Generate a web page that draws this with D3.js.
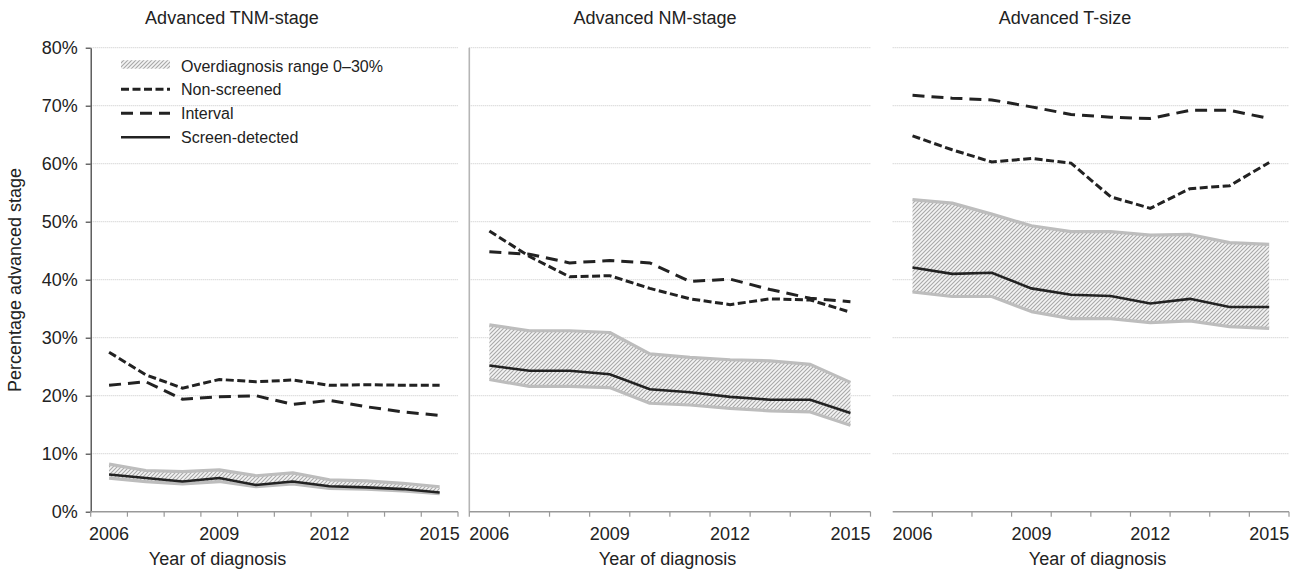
<!DOCTYPE html>
<html>
<head>
<meta charset="utf-8">
<script src="https://cdn.jsdelivr.net/npm/d3@7"></script>
<style>
  html, body { margin: 0; padding: 0; background: #fff; }
  svg { display: block; font-family: "Liberation Sans", Arial, Helvetica, sans-serif; }
</style>
</head>
<body>
<svg id="chart" width="1296" height="573"></svg>
<script>
// ---------------- DATA ----------------
const years = [2006, 2007, 2008, 2009, 2010, 2011, 2012, 2013, 2014, 2015];
const xTickLabels = [2006, 2009, 2012, 2015];
const yTicks = [0, 10, 20, 30, 40, 50, 60, 70, 80];
const panelTitles = ["Advanced TNM-stage", "Advanced NM-stage", "Advanced T-size"];
const xAxisTitle = "Year of diagnosis";
const yAxisTitle = "Percentage advanced stage";
const legendLabels = ["Overdiagnosis range 0\u201330%", "Non-screened", "Interval", "Screen-detected"];

// Panel 1: Advanced TNM-stage (%)
const tnmNonScreened = [27.5, 23.6, 21.3, 22.8, 22.4, 22.7, 21.8, 21.9, 21.8, 21.8];
const tnmInterval    = [21.8, 22.4, 19.4, 19.8, 20.0, 18.5, 19.2, 18.1, 17.2, 16.6];
const tnmScreen      = [6.4, 5.8, 5.2, 5.8, 4.6, 5.2, 4.4, 4.2, 3.9, 3.3];
const tnmBandHigh    = [8.2, 7.1, 6.9, 7.2, 6.2, 6.7, 5.5, 5.3, 4.9, 4.3];
const tnmBandLow     = [5.8, 5.2, 4.8, 5.2, 4.3, 4.8, 4.0, 3.9, 3.6, 3.1];

// Panel 2: Advanced NM-stage (%)
const nmNonScreened = [48.4, 44.0, 40.5, 40.7, 38.5, 36.7, 35.7, 36.7, 36.5, 34.4];
const nmInterval    = [44.8, 44.4, 42.9, 43.3, 42.9, 39.7, 40.1, 38.3, 36.8, 36.2];
const nmScreen      = [25.2, 24.3, 24.3, 23.7, 21.1, 20.6, 19.8, 19.3, 19.3, 17.0];
const nmBandHigh    = [32.2, 31.2, 31.2, 30.9, 27.2, 26.6, 26.2, 26.0, 25.4, 22.3];
const nmBandLow     = [22.8, 21.6, 21.6, 21.4, 18.7, 18.4, 17.8, 17.4, 17.2, 14.9];

// Panel 3: Advanced T-size (%)
const tNonScreened = [64.8, 62.4, 60.3, 60.9, 60.1, 54.3, 52.3, 55.7, 56.2, 60.2];
const tInterval    = [71.8, 71.3, 71.0, 69.8, 68.5, 68.0, 67.8, 69.2, 69.2, 67.8];
const tScreen      = [42.1, 41.0, 41.2, 38.5, 37.4, 37.2, 35.9, 36.7, 35.3, 35.3];
const tBandHigh    = [53.8, 53.2, 51.3, 49.3, 48.3, 48.3, 47.7, 47.8, 46.4, 46.1];
const tBandLow     = [37.9, 37.1, 37.1, 34.5, 33.3, 33.3, 32.6, 32.9, 31.9, 31.6];

// ---------------- LAYOUT ----------------
const svg = d3.select("#chart");
const yTop = 47.7, yBottom = 511.7;
const panels = [
  { x0: 90.7,  x1: 458,   titleX: 232,  xTitleX: 217.5, leftLine: "axis",
    ns: tnmNonScreened, iv: tnmInterval, sd: tnmScreen, hi: tnmBandHigh, lo: tnmBandLow, firstTick: true },
  { x0: 469.3, x1: 870.5, titleX: 655,  xTitleX: 667.5, leftLine: "grey",
    ns: nmNonScreened, iv: nmInterval, sd: nmScreen, hi: nmBandHigh, lo: nmBandLow, firstTick: true },
  { x0: 892.7, x1: 1289,  titleX: 1065, xTitleX: 1097.5, leftLine: "none",
    ns: tNonScreened, iv: tInterval, sd: tScreen, hi: tBandHigh, lo: tBandLow, firstTick: false }
];

const y = d3.scaleLinear().domain([0, 80]).range([yBottom, yTop]);

// hatch pattern
const defs = svg.append("defs");
const pat = defs.append("pattern")
  .attr("id", "hatch").attr("patternUnits", "userSpaceOnUse")
  .attr("width", 4).attr("height", 4);
pat.append("rect").attr("width", 4).attr("height", 4).attr("fill", "#f4f4f4");
pat.append("path").attr("d", "M-1,1 l2,-2 M0,4 l4,-4 M3,5 l2,-2")
  .attr("stroke", "#a8a8a8").attr("stroke-width", 1.1);

const lineColor = "#222";
const dashNS = "8,3.5";
const dashIV = "12,7";

panels.forEach((p, pi) => {
  const x = d3.scaleBand().domain(years).range([p.x0, p.x1]).paddingInner(0).paddingOuter(0);
  const cx = d => x(d) + x.bandwidth() / 2;
  const g = svg.append("g");

  // gridlines (dotted)
  g.append("g").selectAll("line").data(yTicks.filter(t => t > 0)).join("line")
    .attr("x1", p.x0).attr("x2", p.x1)
    .attr("y1", d => y(d)).attr("y2", d => y(d))
    .attr("stroke", "#c8c8c8").attr("stroke-width", 1).attr("stroke-dasharray", "1,1");

  // left vertical line
  if (p.leftLine === "axis") {
    const ya = d3.axisLeft(y).tickValues(yTicks).tickFormat(d => d + "%")
      .tickSize(5).tickSizeOuter(0).tickPadding(8);
    const ag = g.append("g").attr("transform", `translate(${p.x0},0)`).call(ya);
    ag.select(".domain").attr("stroke", "#444").attr("stroke-width", 1.3);
    ag.selectAll(".tick line").attr("stroke", "#444").attr("stroke-width", 1.2);
    ag.selectAll(".tick text").attr("font-size", 18).attr("fill", "#222")
      .attr("font-family", "Liberation Sans, Arial, sans-serif");
  } else if (p.leftLine === "grey") {
    g.append("line").attr("x1", p.x0).attr("x2", p.x0).attr("y1", yTop).attr("y2", yBottom)
      .attr("stroke", "#b5b5b5").attr("stroke-width", 1.6);
  }

  // x axis line & ticks at category boundaries
  g.append("line").attr("x1", p.x0).attr("x2", p.x1).attr("y1", yBottom).attr("y2", yBottom)
    .attr("stroke", "#999").attr("stroke-width", 1.4);
  const bounds = years.map(d => x(d)).concat([p.x1]).filter((b, i) => p.firstTick || i > 0);
  g.append("g").selectAll("line").data(bounds).join("line")
    .attr("x1", d => d).attr("x2", d => d).attr("y1", yBottom).attr("y2", yBottom + 5)
    .attr("stroke", "#999").attr("stroke-width", 1.2);
  g.append("g").selectAll("text").data(xTickLabels).join("text")
    .attr("x", d => cx(d)).attr("y", 540).attr("text-anchor", "middle")
    .attr("font-size", 18).attr("fill", "#222").text(d => d);

  // band
  const bandData = years.map((yr, i) => ({ yr, lo: p.lo[i], hi: p.hi[i] }));
  g.append("path").datum(bandData)
    .attr("d", d3.area().x(d => cx(d.yr)).y0(d => y(d.lo)).y1(d => y(d.hi)))
    .attr("fill", "url(#hatch)");
  [p.hi, p.lo].forEach(arr => {
    g.append("path").datum(arr)
      .attr("d", d3.line().x((d, i) => cx(years[i])).y(d => y(d)))
      .attr("fill", "none").attr("stroke", "#bdbdbd").attr("stroke-width", 3.2)
      .attr("stroke-linejoin", "round");
  });

  const line = d3.line().x((d, i) => cx(years[i])).y(d => y(d));
  g.append("path").datum(p.sd).attr("d", line)
    .attr("fill", "none").attr("stroke", lineColor).attr("stroke-width", 2.6);
  g.append("path").datum(p.iv).attr("d", line)
    .attr("fill", "none").attr("stroke", lineColor).attr("stroke-width", 3)
    .attr("stroke-dasharray", dashIV);
  g.append("path").datum(p.ns).attr("d", line)
    .attr("fill", "none").attr("stroke", lineColor).attr("stroke-width", 3)
    .attr("stroke-dasharray", dashNS);

  // titles
  svg.append("text").attr("x", p.titleX).attr("y", 24).attr("text-anchor", "middle")
    .attr("font-size", 18).attr("fill", "#222").text(panelTitles[pi]);
  svg.append("text").attr("x", p.xTitleX).attr("y", 565).attr("text-anchor", "middle")
    .attr("font-size", 18).attr("fill", "#222").text(xAxisTitle);
});

// y axis title
svg.append("text").attr("transform", "translate(21,280) rotate(-90)")
  .attr("text-anchor", "middle").attr("font-size", 18).attr("fill", "#222").text(yAxisTitle);

// legend
const lg = svg.append("g");
const lgX0 = 121, lgX1 = 170, lgTextX = 181;
const rowBase = [71.7, 95.3, 119.3, 143.3];
lg.append("rect").attr("x", lgX0).attr("y", rowBase[0] - 11.5).attr("width", lgX1 - lgX0).attr("height", 8.5)
  .attr("fill", "url(#hatch)");
const legendStyles = [null, { dash: dashNS, w: 3 }, { dash: dashIV, w: 3 }, { dash: null, w: 2.6 }];
legendStyles.forEach((s, i) => {
  if (!s) return;
  lg.append("line").attr("x1", lgX0).attr("x2", lgX1)
    .attr("y1", rowBase[i] - 6).attr("y2", rowBase[i] - 6)
    .attr("stroke", lineColor).attr("stroke-width", s.w)
    .attr("stroke-dasharray", s.dash);
});
lg.selectAll("text.lbl").data(legendLabels).join("text").attr("class", "lbl")
  .attr("x", lgTextX).attr("y", (d, i) => rowBase[i])
  .attr("font-size", 16).attr("fill", "#222").text(d => d);
</script>
</body>
</html>
